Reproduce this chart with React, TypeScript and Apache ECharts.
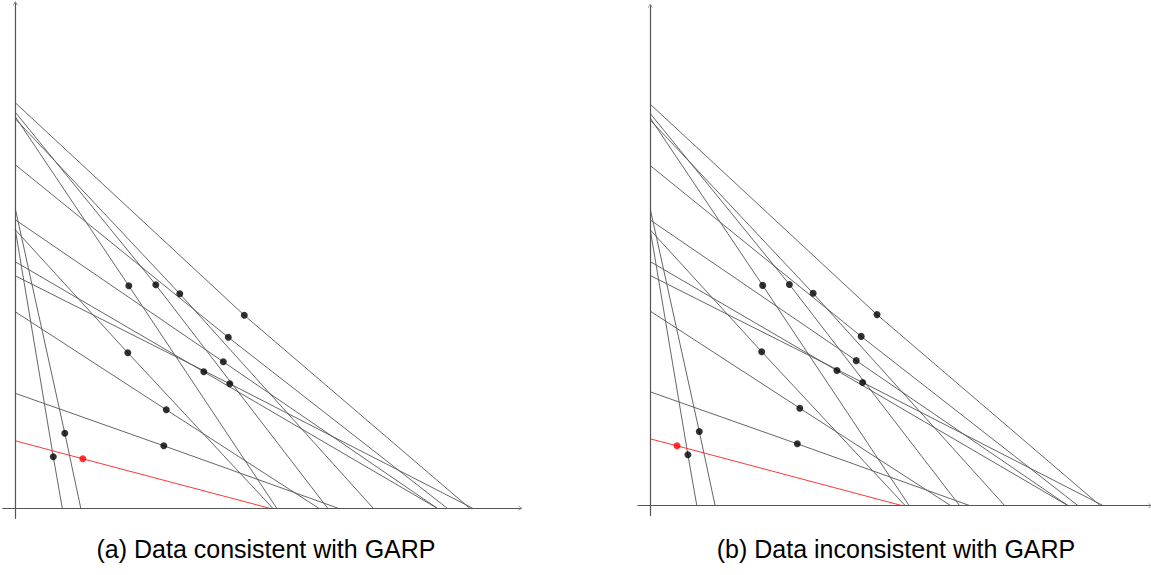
import React, { useEffect, useRef } from "react";
import * as echarts from "echarts";

// Budget lines: each passes through (0, yIntercept), the chosen bundle, and (xIntercept, 0)
const yIntercepts = [7.83, 7.92, 7.79, 8.11, 6.87, 5.57, 5.77, 4.93, 4.65, 3.93, 2.30, 5.99, 5.57];
const xIntercepts = [5.23, 6.25, 7.16, 9.09, 8.64, 5.15, 8.44, 8.44, 9.15, 6.07, 6.46, 1.31, 0.94];
const pointsX = [2.27, 2.81, 3.29, 4.58, 4.26, 2.25, 4.16, 3.77, 4.29, 3.02, 2.97, 0.99, 0.76];
const pointsY = [4.45, 4.47, 4.29, 3.86, 3.42, 3.11, 2.93, 2.73, 2.49, 1.97, 1.25, 1.50, 1.03];

// Highlighted (red) budget line and bundles
const redYIntercept = 1.35;
const redXIntercept = 5.09;
const redPointA = [1.35, 0.99];
const redPointB = [0.54, 1.21];

const captions = ["(a) Data consistent with GARP", "(b) Data inconsistent with GARP"];

const X_MIN = -0.25, X_MAX = 10.1, Y_MIN = -0.2, Y_MAX = 10.1;
const ARROW = "path://M0,8 L5,0 L10,8 L9,8 L5,1.8 L1,8 Z";

function buildSeries(gi: number, redPoint: number[]) {
  const s: any[] = [];
  for (let i = 0; i < pointsX.length; i++) {
    s.push({
      type: "line",
      xAxisIndex: gi,
      yAxisIndex: gi,
      data: [
        [0, yIntercepts[i]],
        [pointsX[i], pointsY[i]],
        [xIntercepts[i], 0],
      ],
      showSymbol: false,
      symbol: "none",
      lineStyle: { color: "#555555", width: 0.9 },
      z: 2,
      silent: true,
    });
  }
  s.push({
    type: "line",
    xAxisIndex: gi,
    yAxisIndex: gi,
    data: [
      [0, redYIntercept],
      [redPoint[0], redPoint[1]],
      [redXIntercept, 0],
    ],
    symbol: "none",
    lineStyle: { color: "#ff2020", width: 0.9 },
    z: 3,
    silent: true,
  });
  s.push({
    type: "scatter",
    xAxisIndex: gi,
    yAxisIndex: gi,
    data: pointsX.map((x, i) => [x, pointsY[i]]),
    symbolSize: 7,
    itemStyle: { color: "#000000" },
    z: 5,
    silent: true,
  });
  s.push({
    type: "scatter",
    xAxisIndex: gi,
    yAxisIndex: gi,
    data: [redPoint],
    symbolSize: 7,
    itemStyle: { color: "#ff0000" },
    z: 6,
    silent: true,
  });
  return s;
}

function axis(gi: number) {
  return {
    type: "value",
    gridIndex: gi,
    axisLine: {
      show: true,
      onZero: true,
      symbol: ["none", ARROW],
      symbolSize: [7, 4],
      lineStyle: { color: "#555555", width: 1.2 },
    },
    axisTick: { show: false },
    axisLabel: { show: false },
    splitLine: { show: false },
  };
}

export default function App() {
  const ref = useRef<HTMLDivElement>(null);
  useEffect(() => {
    if (!ref.current) return;
    const chart = echarts.init(ref.current, null, { renderer: "svg" });
    chart.setOption({
      animation: false,
      backgroundColor: "#ffffff",
      grid: [
        { left: 2.8, top: 3.3, width: 517.5, height: 515 },
        { left: 637.9, top: 5.7, width: 512.4, height: 509.9 },
      ],
      xAxis: [0, 1].map((gi) => ({ ...axis(gi), min: X_MIN, max: X_MAX })),
      yAxis: [0, 1].map((gi) => ({ ...axis(gi), min: Y_MIN, max: Y_MAX })),
      series: [...buildSeries(0, redPointA), ...buildSeries(1, redPointB)],
      graphic: [
        {
          type: "text",
          x: 266,
          y: 549,
          style: {
            text: captions[0],
            fontFamily: "Liberation Sans, Arial, sans-serif",
            fontSize: 25,
            fill: "#000",
            textAlign: "center",
            textVerticalAlign: "middle",
          },
        },
        {
          type: "text",
          x: 896,
          y: 549,
          style: {
            text: captions[1],
            fontFamily: "Liberation Sans, Arial, sans-serif",
            fontSize: 25,
            fill: "#000",
            textAlign: "center",
            textVerticalAlign: "middle",
          },
        },
      ],
    });
    return () => chart.dispose();
  }, []);
  return (
    <div
      ref={ref}
      style={{ position: "fixed", left: 0, top: 0, width: 1151, height: 575, background: "#fff" }}
    />
  );
}
